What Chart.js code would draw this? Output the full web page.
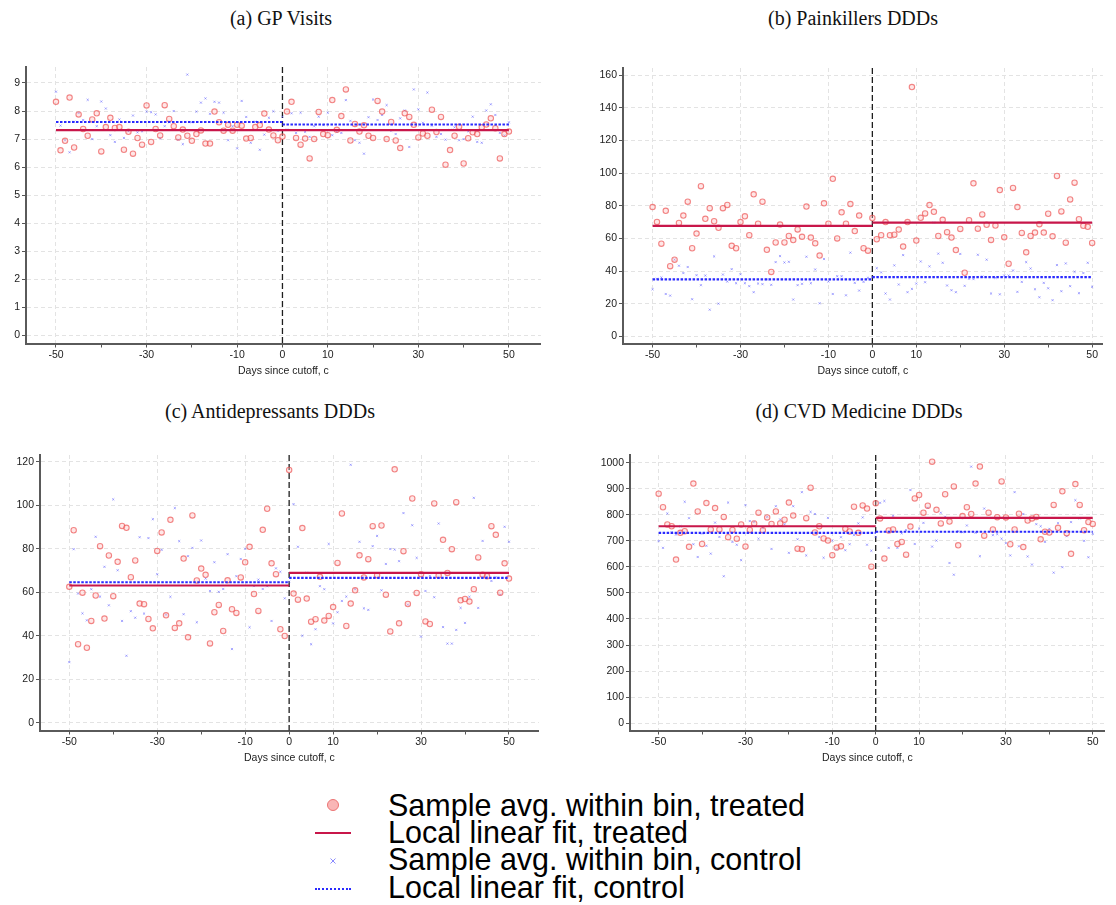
<!DOCTYPE html>
<html>
<head>
<meta charset="utf-8">
<title>RDD by days since cutoff</title>
<script src="https://cdn.jsdelivr.net/npm/chart.js@4.4.1/dist/chart.umd.min.js"></script>
<style>
  body { margin: 0; background: #fff; width: 1116px; height: 905px; position: relative; overflow: hidden;
         font-family: "Liberation Sans", Arial, sans-serif; }
  canvas { position: absolute; }
  .ttl { position: absolute; font-family: "Liberation Serif", "Times New Roman", serif; font-size: 20px;
         line-height: 24px; transform: translateX(-50%); white-space: nowrap; color: #111; }
  .leg { position: absolute; left: 388px; font-size: 30.5px; line-height: 28px; height: 28px; white-space: nowrap; color: #000; }
  .mk { position: absolute; }
</style>
</head>
<body>

<div class="ttl" style="left:281px;top:6px">(a) GP Visits</div>
<div class="ttl" style="left:853px;top:6px">(b) Painkillers DDDs</div>
<div class="ttl" style="left:270px;top:399px">(c) Antidepressants DDDs</div>
<div class="ttl" style="left:859px;top:399px">(d) CVD Medicine DDDs</div>

<canvas id="gp" width="546" height="320" style="left:0;top:57px"></canvas>
<canvas id="pain" width="518" height="319" style="left:590px;top:58px"></canvas>
<canvas id="anti" width="544" height="319" style="left:0;top:445px"></canvas>
<canvas id="cvd" width="520" height="319" style="left:590px;top:445px"></canvas>

<!-- legend -->
<div class="mk" style="left:327px;top:799px;width:10px;height:10px;border-radius:50%;background:#f9b6b6;border:1px solid #ec7474"></div>
<div class="leg" style="top:791px">Sample avg. within bin, treated</div>
<div class="mk" style="left:315px;top:832px;width:36px;height:2px;background:#c8164a"></div>
<div class="leg" style="top:818px">Local linear fit, treated</div>
<svg class="mk" style="left:329px;top:857px" width="8" height="8"><path d="M1.5 1.5L6.5 6.5M6.5 1.5L1.5 6.5" stroke="#8a8aff" stroke-width="1"/></svg>
<div class="leg" style="top:845px">Sample avg. within bin, control</div>
<div class="mk" style="left:315px;top:888px;width:36px;height:0;border-top:2px dotted #2a2aff"></div>
<div class="leg" style="top:873px">Local linear fit, control</div>

<script>
// bins: one per day, -50 .. 50
const DAYS = Array.from({ length: 101 }, (_, i) => i - 50);
const CUTOFF = 0;
const X_TICKS = [-50, -40, -30, -20, -10, 0, 10, 20, 30, 40, 50];
const X_LABELS = [-50, -30, -10, 0, 10, 30, 50];
const X_GRID = [-50, -30, -10, 10, 30, 50];

// (a) GP visits
const gpTicks = [0, 1, 2, 3, 4, 5, 6, 7, 8, 9];
const gpTreated = [
  8.33, 6.6, 6.94, 8.48, 6.70, 7.88, 7.36, 7.12, 7.70, 7.92,
  6.56, 7.43, 7.76, 7.40, 7.43, 6.62, 7.26, 6.48, 7.04, 6.80,
  8.2, 6.9, 7.36, 7.13, 8.21, 7.72, 7.46, 7.06, 7.34, 7.12,
  6.94, 7.18, 7.31, 6.84, 6.84, 7.98, 7.6, 7.3, 7.51, 7.30,
  7.51, 7.48, 7.02, 7.04, 7.43, 7.50, 7.91, 7.34, 7.13, 6.96,
  7.09,
  7.98, 8.33, 7.04, 6.8, 7.02, 6.31, 7.0, 7.97, 7.18, 7.14,
  8.39, 7.33, 7.82, 8.77, 6.95, 7.54, 7.27, 7.49, 7.12, 7.04,
  8.36, 7.98, 7.0, 7.61, 6.95, 6.68, 7.92, 7.79, 7.51, 7.06,
  7.2, 7.12, 8.05, 7.25, 7.79, 6.09, 6.61, 7.12, 7.44, 6.13,
  7.03, 7.24, 7.18, 7.42, 7.52, 7.74, 7.39, 6.31, 7.18, 7.27
];
const gpControl = [
  8.69, 7.48, 6.96, 6.53, 7.62, 7.93, 7.68, 8.4, 7.0, 7.46,
  8.34, 8.09, 7.14, 6.9, 7.70, 7.04, 7.28, 7.84, 7.24, 7.28,
  7.98, 7.96, 7.88, 7.03, 7.46, 7.6, 8.0, 6.98, 6.82, 9.3,
  7.6, 7.98, 8.3, 8.45, 7.9, 8.33, 8.3, 7.94, 6.96, 7.46,
  6.67, 8.36, 7.79, 6.87, 7.62, 6.62, 7.16, 7.76, 7.99, 7.30,
  7.8,
  7.34, 7.92, 7.22, 7.94, 7.26, 7.08, 7.46, 7.80, 7.5, 7.94,
  7.14, 7.26, 7.22, 8.39, 7.65, 6.96, 6.87, 6.48, 7.78, 8.41,
  7.68, 7.86, 8.21, 7.3, 7.18, 7.74, 8.02, 6.72, 8.77, 8.06,
  7.58, 8.66, 7.48, 7.08, 7.18, 6.98, 7.33, 7.42, 6.96, 7.0,
  7.28, 7.8, 6.9, 6.87, 8.02, 8.24, 7.86, 7.22, 7.13, 7.6
];
const gpFitTreated = [7.32, 7.32];   // [before cutoff, after cutoff]
const gpFitControl = [7.61, 7.52];

// (b) painkillers
const painTicks = [0, 20, 40, 60, 80, 100, 120, 140, 160];
const painTreated = [
  79.2, 70.1, 56.8, 76.9, 43, 47, 69.5, 74, 82.5, 54,
  63, 92, 72, 78.5, 70.5, 66.5, 78.5, 80.5, 55.5, 54,
  70, 73.5, 62, 87, 69, 82.5, 53, 39.5, 57.5, 68.5,
  57.5, 61.5, 59, 65.5, 61, 79.5, 60.5, 57, 49.5, 81.5,
  69, 96.5, 60, 76, 69, 81, 64.5, 74, 54, 52.5,
  72.5,
  59.5, 62, 70, 62, 62.3, 65.4, 55, 70, 152.6, 58.7,
  72.6, 75.3, 80.4, 76.3, 61.5, 71.4, 63.8, 60.5, 52.9, 65.8,
  39, 71.2, 93.7, 66, 74.7, 68.3, 59.1, 67.9, 89.6, 60.7,
  44.5, 90.9, 79.2, 63.4, 51.5, 61.5, 63.6, 68.7, 63.6, 75.1,
  61.3, 98.2, 76.5, 57.4, 83.9, 94.1, 71.8, 67.7, 67.1, 57.2
];
const painControl = [
  28.9, 35.3, 36.1, 26, 25, 47, 43.3, 38.8, 42.5, 22.8,
  37.5, 31.4, 37.3, 16.4, 49, 20.1, 37.9, 33.6, 41.2, 32.6,
  38.1, 32.6, 30.8, 27.1, 32.4, 32, 34.9, 31.6, 45.5, 49.2,
  45.3, 45.7, 22.6, 31.4, 32.2, 48.8, 32.6, 41, 20.3, 47.4,
  33.6, 26, 36.9, 36.9, 25.2, 51.3, 32.8, 28.1, 33.4, 35.9,
  36.3,
  41.8, 39.2, 26.3, 22.6, 43.5, 31.8, 49.8, 27.1, 29.1, 32.4,
  45.9, 33.2, 42.9, 69.7, 50.7, 45.1, 31.2, 28.3, 27.1, 50.5,
  31, 35.3, 35.1, 50, 36.7, 47, 26.3, 35.9, 25.8, 37.3,
  37.3, 40.4, 27.3, 33.4, 45.5, 41.6, 28.9, 24, 32.8, 29.5,
  22.2, 43.7, 27.7, 44.7, 30.8, 39.6, 26.5, 38.8, 45.1, 30.4
];
const painFitTreated = [67.7, 69.7];
const painFitControl = [34.9, 36.3];

// (c) antidepressants
const antiTicks = [0, 20, 40, 60, 80, 100, 120];
const antiTreated = [
  62.5, 88.5, 36.1, 59.8, 34.5, 46.8, 58.5, 81.2, 47.9, 76.9,
  58.2, 74, 90.5, 89.6, 66.9, 74.6, 54.8, 54.5, 47.7, 43.4,
  79, 87.5, 49.4, 93.3, 43.6, 45.7, 75.5, 39.3, 95.3, 65.4,
  70.9, 68, 36.5, 50.8, 54.2, 42.2, 65.5, 52.2, 50.5, 66.8,
  73.8, 80.9, 59.2, 51.4, 88.7, 98.4, 73.3, 68.3, 43, 39.9,
  116.2,
  59.4, 56.6, 89.5, 57.1, 46.5, 47.6, 67.1, 47, 49.1, 53.2,
  73.5, 96.2, 44.5, 54.8, 60.9, 77, 66.8, 75.2, 90.4, 67.8,
  90.7, 58.9, 42, 116.5, 45.7, 78.9, 54.6, 103.1, 59.7, 68.3,
  46.6, 45.4, 100.8, 67.7, 84.1, 68.9, 79.8, 101.4, 56.3, 56.9,
  55.7, 61.4, 76, 68.1, 67.4, 90.4, 86.4, 59.8, 73.3, 66.3
];
const antiControl = [
  27.9, 79.8, 59.4, 50.3, 47.1, 61.4, 85.5, 58, 71.7, 54,
  102.7, 70.1, 46.8, 30.8, 51.3, 48.3, 85.3, 50.2, 84.9, 93.6,
  68.3, 79.5, 49.7, 57.9, 98.7, 83.5, 49.9, 76.6, 80.4, 46.2,
  83.8, 66.3, 60.6, 73.8, 60.2, 61.5, 77.5, 33.9, 67.4, 75.3,
  80, 43.9, 62.9, 65.8, 61.5, 62.8, 46.8, 71, 69.4, 57.2,
  64.8,
  100.5, 80.9, 40, 69, 36.1, 43, 62.8, 61.4, 82.2, 45.7,
  50.8, 56, 58, 118.6, 61.4, 83.2, 52.6, 51.9, 81.2, 85.9,
  60.9, 73, 79.9, 79.6, 74.3, 96.4, 54.3, 90.8, 75.8, 39.6,
  60.6, 67.5, 57.7, 91.6, 44, 36.4, 36.4, 42.7, 52.8, 45.9,
  57.9, 103.4, 52.8, 83.6, 67.1, 65.2, 66.8, 58.9, 90.1, 83.2
];
const antiFitTreated = [63.1, 68.9];
const antiFitControl = [64.6, 66.6];

// (d) CVD medicine
const cvdTicks = [0, 100, 200, 300, 400, 500, 600, 700, 800, 900, 1000];
const cvdTreated = [
  881, 829, 763, 756, 628, 731, 737, 677, 920, 813,
  688, 845, 744, 826, 744, 792, 714, 742, 708, 763,
  678, 742, 767, 808, 741, 790, 765, 813, 767, 781,
  847, 797, 670, 668, 787, 904, 732, 756, 709, 701,
  645, 674, 679, 746, 736, 831, 731, 836, 824, 601,
  844,
  786, 632, 740, 744, 688, 696, 647, 755, 863, 876,
  808, 835, 1004, 819, 767, 879, 774, 909, 683, 795,
  829, 803, 920, 985, 720, 808, 744, 791, 928, 790,
  687, 744, 804, 676, 778, 786, 792, 706, 735, 732,
  838, 750, 890, 729, 650, 918, 838, 741, 772, 765
];
const cvdControl = [
  699, 673, 805, 733, 724, 756, 850, 787, 687, 638,
  728, 681, 651, 770, 715, 564, 847, 696, 685, 626,
  837, 776, 773, 708, 750, 792, 669, 833, 782, 764,
  654, 833, 706, 887, 644, 811, 803, 715, 635, 788,
  701, 668, 714, 664, 687, 722, 767, 790, 685, 662,
  715,
  846, 853, 673, 796, 673, 729, 741, 895, 688, 747,
  769, 827, 678, 701, 808, 792, 615, 570, 737, 733,
  759, 985, 731, 641, 824, 788, 722, 726, 708, 691,
  644, 887, 679, 803, 640, 609, 764, 756, 696, 746,
  578, 768, 599, 718, 772, 856, 786, 700, 637, 727
];
const cvdFitTreated = [756, 788];
const cvdFitControl = [731, 735];

const SANS = '"Liberation Sans", Arial, sans-serif';

// vertical dashed line at the cutoff
const cutoffLine = {
  id: 'cutoffLine',
  beforeDatasetsDraw(chart) {
    const { ctx, chartArea, scales } = chart;
    const x = scales.x.getPixelForValue(CUTOFF);
    ctx.save();
    ctx.strokeStyle = '#1e1e1e';
    ctx.lineWidth = 1.3;
    ctx.setLineDash([6, 3]);
    ctx.beginPath();
    ctx.moveTo(x, chartArea.top);
    ctx.lineTo(x, chartArea.bottom);
    ctx.stroke();
    ctx.restore();
  }
};

function toPoints(vals) {
  return vals.map((v, i) => ({ x: DAYS[i], y: v }));
}

// flat fit on each side of the cutoff, with a gap at the jump
function fitSegments([before, after]) {
  const first = DAYS[0], last = DAYS[DAYS.length - 1];
  return [
    { x: first, y: before }, { x: CUTOFF, y: before },
    { x: CUTOFF, y: null },
    { x: CUTOFF, y: after }, { x: last, y: after }
  ];
}

function drawPanel(id, p) {
  new Chart(document.getElementById(id), {
    type: 'scatter',
    data: {
      datasets: [
        { data: fitSegments(p.fitT), showLine: true, spanGaps: false, borderColor: '#c8164a', borderWidth: 2.2,
          pointRadius: 0 },
        { data: fitSegments(p.fitC), showLine: true, spanGaps: false, borderColor: '#2a2aff', borderWidth: 2.2,
          borderDash: [2.5, 1.5], pointRadius: 0 },
        { data: toPoints(p.treated), pointStyle: 'circle', pointRadius: 2.7, borderWidth: 1.1,
          borderColor: 'rgba(236,85,85,0.7)', backgroundColor: 'rgba(255,185,185,0.35)' },
        { data: toPoints(p.control), pointStyle: 'crossRot', pointRadius: 1.5, borderWidth: 1,
          borderColor: 'rgba(100,100,255,0.55)', backgroundColor: 'rgba(100,100,255,0.55)' }
      ]
    },
    options: {
      responsive: false,
      animation: false,
      layout: { padding: { top: 10, right: 5, left: 0, bottom: 0 } },
      plugins: { legend: { display: false }, tooltip: { enabled: false } },
      scales: {
        x: {
          type: 'linear', min: p.xMin, max: p.xMax,
          afterBuildTicks: s => { s.ticks = X_TICKS.map(v => ({ value: v })); },
          afterFit: s => { s.height = 33.5; },
          ticks: { autoSkip: false, maxRotation: 0, padding: 1, color: '#222', font: { family: SANS, size: 10.5 },
                   callback: v => X_LABELS.includes(v) ? String(v) : '' },
          grid: { color: c => (c.tick && X_GRID.includes(c.tick.value)) ? '#e3e3e3' : 'rgba(0,0,0,0)',
                  tickColor: '#555', tickLength: 4, tickWidth: 1 },
          border: { color: '#5a5a5a', width: 2, dash: [4, 3] },
          title: { display: true, text: 'Days since cutoff, c', color: '#222', padding: { top: 0, bottom: 0 },
                   font: { family: SANS, size: 10.5 } }
        },
        y: {
          min: p.yMin, max: p.yMax,
          afterBuildTicks: s => { s.ticks = p.yTicks.map(v => ({ value: v })); },
          afterFit: s => { s.width = p.yAxisW; },
          ticks: { padding: 2, color: '#222', font: { family: SANS, size: 10.5 }, callback: v => String(v) },
          grid: { color: '#e3e3e3', tickColor: '#555', tickLength: 4, tickWidth: 1 },
          border: { color: '#5a5a5a', width: 2, dash: [4, 3] }
        }
      }
    },
    plugins: [cutoffLine]
  });
}

drawPanel('gp', { treated: gpTreated, control: gpControl, fitT: gpFitTreated, fitC: gpFitControl,
  yTicks: gpTicks, yMin: -0.285, yMax: 9.57, xMin: -56.62, xMax: 57.06, yAxisW: 26 });
drawPanel('pain', { treated: painTreated, control: painControl, fitT: painFitTreated, fitC: painFitControl,
  yTicks: painTicks, yMin: -4.3, yMax: 164.3, xMin: -56.73, xMax: 52.45, yAxisW: 33 });
drawPanel('anti', { treated: antiTreated, control: antiControl, fitT: antiFitTreated, fitC: antiFitControl,
  yTicks: antiTicks, yMin: -3.55, yMax: 123.1, xMin: -56.66, xMax: 56.8, yAxisW: 40 });
drawPanel('cvd', { treated: cvdTreated, control: cvdControl, fitT: cvdFitTreated, fitC: cvdFitControl,
  yTicks: cvdTicks, yMin: -28.1, yMax: 1029.6, xMin: -56.6, xMax: 52.8, yAxisW: 40 });
</script>
</body>
</html>
